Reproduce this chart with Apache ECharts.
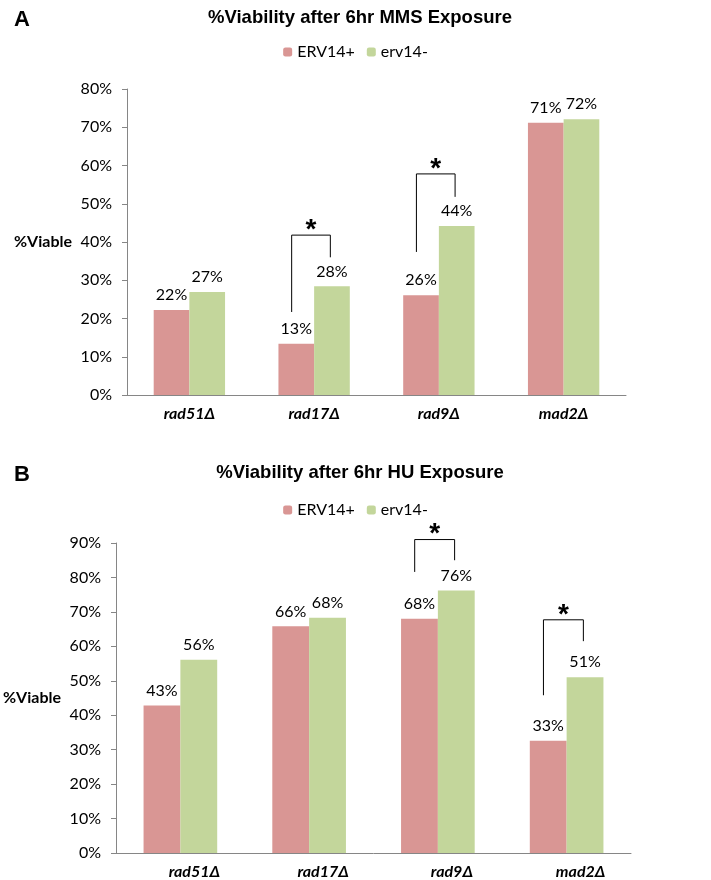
<!DOCTYPE html>
<html>
<head>
<meta charset="utf-8">
<script src="https://cdn.jsdelivr.net/npm/echarts@6/dist/echarts.min.js"></script>
<style>
  html, body { margin: 0; padding: 0; background: #fff; }
  #main { width: 711px; height: 880px; }
</style>
</head>
<body>
<div id="main"></div>
<script>
// 数据
var categories = ['rad51Δ', 'rad17Δ', 'rad9Δ', 'mad2Δ'];
var seriesNames = ['ERV14+', 'erv14-'];

// A: MMS
var mmsPlus = [22.2, 13.4, 26.1, 71.2];
var mmsMinus = [26.9, 28.4, 44.2, 72.1];
// [类别序号, 左端底, 顶, 右端底]
var mmsBrackets = [[1, 21.7, 41.8, 36.0], [2, 37.4, 57.8, 51.8]];

// B: HU
var huPlus = [42.8, 65.8, 68.0, 32.6];
var huMinus = [56.1, 68.3, 76.2, 51.0];
var huBrackets = [[2, 81.6, 91.0, 85.0], [3, 45.8, 67.7, 61.5]];

var colors = ['#D99694', '#C3D69B'];
var font = 'Lato, "Open Sans", sans-serif';

var myChart = echarts.init(document.getElementById('main'));

function bracketItem(params, api) {
    var c = api.value(0);
    var pL = api.coord([c, api.value(1)]);
    var pT = api.coord([c, api.value(2)]);
    var pR = api.coord([c, api.value(3)]);
    var band = api.size([1, 0])[0];
    var xl = pL[0] - band * 0.18;
    var xr = pL[0] + band * 0.13;
    return {
        type: 'group',
        children: [{
            type: 'polyline',
            shape: { points: [[xl, pL[1]], [xl, pT[1]], [xr, pT[1]], [xr, pR[1]]] },
            style: { stroke: '#000', lineWidth: 1, fill: null }
        }, {
            type: 'text',
            x: (xl + xr) / 2,
            y: pT[1] + 9,
            style: {
                text: '*', fontSize: 28, fontWeight: 'bold', fontFamily: 'Arial, sans-serif',
                fill: '#000', align: 'center', verticalAlign: 'bottom'
            }
        }]
    };
}

function barSeries(name, data, idx, color) {
    return {
        name: name,
        type: 'bar',
        xAxisIndex: idx,
        yAxisIndex: idx,
        barWidth: '28.6%',
        barGap: '0%',
        itemStyle: { color: color },
        label: {
            show: true,
            position: 'top',
            distance: 7,
            color: '#000',
            fontSize: 16,
            fontFamily: font,
            formatter: function (p) { return Math.round(p.value) + '%'; }
        },
        data: data
    };
}

function xAxisCfg(idx, pad) {
    return {
        type: 'category',
        gridIndex: idx,
        data: categories,
        axisLine: { lineStyle: { color: '#868686' } },
        axisTick: { show: false },
        axisLabel: {
            color: '#000', fontSize: 16, fontWeight: 'bold', fontStyle: 'italic',
            fontFamily: font, margin: 11, padding: pad
        }
    };
}

function yAxisCfg(idx, max) {
    return {
        type: 'value',
        gridIndex: idx,
        min: 0,
        max: max,
        interval: 10,
        name: '%Viable',
        nameLocation: 'middle',
        nameRotate: 0,
        nameGap: 55,
        nameTextStyle: { color: '#000', fontSize: 16, fontWeight: 'bold', fontFamily: font, align: 'right' },
        axisLine: { show: true, lineStyle: { color: '#868686' } },
        axisTick: { show: true, length: 5, lineStyle: { color: '#868686' } },
        splitLine: { show: false },
        axisLabel: { color: '#000', fontSize: 16, fontFamily: font, margin: 15, formatter: '{value}%' }
    };
}

var option = {
    animation: false,
    title: [
        { text: 'A', left: 9, top: 4, textStyle: { fontSize: 22, fontWeight: 'bold', fontFamily: 'Arial, sans-serif', color: '#000' } },
        { text: '%Viability after 6hr MMS Exposure', left: 355, textAlign: 'center', top: 3,
          textStyle: { fontSize: 18.5, fontWeight: 'bold', fontFamily: '"Liberation Sans", Arial, sans-serif', color: '#000' } },
        { text: 'B', left: 9, top: 459, textStyle: { fontSize: 22, fontWeight: 'bold', fontFamily: 'Arial, sans-serif', color: '#000' } },
        { text: '%Viability after 6hr HU Exposure', left: 355, textAlign: 'center', top: 458,
          textStyle: { fontSize: 18.5, fontWeight: 'bold', fontFamily: '"Liberation Sans", Arial, sans-serif', color: '#000' } }
    ],
    legend: [
        { data: seriesNames, top: 39, left: 'center', itemWidth: 9, itemHeight: 9, itemGap: 12,
          textStyle: { fontSize: 16, fontFamily: font, color: '#000' } },
        { data: seriesNames, top: 497, left: 'center', itemWidth: 9, itemHeight: 9, itemGap: 12,
          textStyle: { fontSize: 16, fontFamily: font, color: '#000' } }
    ],
    color: colors,
    grid: [
        { left: 127, top: 89, right: 85, height: 306 },
        { left: 115, top: 543, right: 80, height: 318 }
    ],
    xAxis: [xAxisCfg(0, [0, 0, 0, 0]), xAxisCfg(1, [0, 0, 0, 28])],
    yAxis: [yAxisCfg(0, 80), yAxisCfg(1, 90)],
    series: [
        barSeries(seriesNames[0], mmsPlus, 0, colors[0]),
        barSeries(seriesNames[1], mmsMinus, 0, colors[1]),
        barSeries(seriesNames[0], huPlus, 1, colors[0]),
        barSeries(seriesNames[1], huMinus, 1, colors[1]),
        { type: 'custom', xAxisIndex: 0, yAxisIndex: 0, clip: false, silent: true,
          renderItem: bracketItem, encode: { x: 0, y: [1, 2, 3] }, data: mmsBrackets, z: 5 },
        { type: 'custom', xAxisIndex: 1, yAxisIndex: 1, clip: false, silent: true,
          renderItem: bracketItem, encode: { x: 0, y: [1, 2, 3] }, data: huBrackets, z: 5 }
    ]
};
myChart.setOption(option);
</script>
</body>
</html>
